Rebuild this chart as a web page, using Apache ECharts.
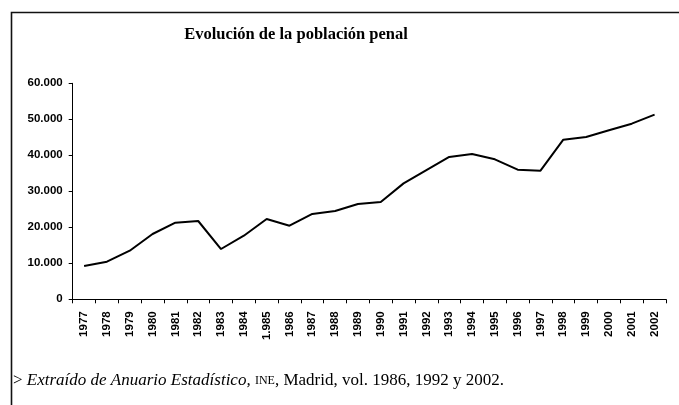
<!DOCTYPE html>
<html>
<head>
<meta charset="utf-8">
<script src="https://cdn.jsdelivr.net/npm/echarts@6/dist/echarts.min.js"></script>
<style>
html,body{margin:0;padding:0;background:#fff;}
#chart{width:679px;height:405px;}
</style>
</head>
<body>
<div id="chart"></div>
<script>
var years = ['1977','1978','1979','1980','1981','1982','1983','1984','1.985','1986','1987','1988','1989','1990','1991','1992','1993','1994','1995','1996','1997','1998','1999','2000','2001','2002'];
var poblacion = [9250,10450,13500,18140,21280,21750,13970,17670,22300,20450,23700,24530,26470,27030,32200,35900,39530,40360,38890,36000,35720,44330,45080,46940,48780,51280];
var titleText = 'Evolución de la población penal';
var yTicks = [0,10000,20000,30000,40000,50000,60000];

function fmt(v){
  return String(v).replace(/\B(?=(\d{3})+(?!\d))/g,'.');
}

var chart = echarts.init(document.getElementById('chart'), null, {renderer:'canvas'});
chart.setOption({
  animation:false,
  backgroundColor:'#fff',
  title:{
    text:titleText,
    left:291, top:21, textAlign:'center',
    textStyle:{fontFamily:'Liberation Serif', fontWeight:'bold', fontSize:16.5, color:'#000'}
  },
  grid:{left:72.7, right:13, top:83.3, bottom:105.7, containLabel:false},
  xAxis:{
    type:'category',
    data:years,
    boundaryGap:true,
    axisLine:{lineStyle:{color:'#000', width:1}},
    axisTick:{show:true, length:4, alignWithLabel:false, lineStyle:{color:'#000'}},
    axisLabel:{rotate:90, interval:0, margin:12, fontFamily:'Liberation Sans', fontWeight:'bold', fontSize:11.5, color:'#000'}
  },
  yAxis:{
    type:'value',
    min:yTicks[0], max:yTicks[yTicks.length-1], interval:10000,
    splitLine:{show:false},
    axisLine:{show:true, lineStyle:{color:'#000', width:1}},
    axisTick:{show:true, length:4, lineStyle:{color:'#000'}},
    axisLabel:{margin:10, fontFamily:'Liberation Sans', fontWeight:'bold', fontSize:11.5, color:'#000', formatter:fmt}
  },
  series:[{
    type:'line',
    data:poblacion,
    symbol:'none',
    lineStyle:{color:'#000', width:2},
    z:3
  }],
  graphic:[
    {type:'rect', shape:{x:11.5, y:12.5, width:700, height:420}, style:{fill:null, stroke:'#111', lineWidth:1.6}, silent:true},
    {type:'text', left:13, top:372,
     style:{
       rich:{
         n:{fontFamily:'Liberation Serif', fontSize:17, fill:'#000'},
         i:{fontFamily:'Liberation Serif', fontSize:17, fontStyle:'italic', fill:'#000'},
         s:{fontFamily:'Liberation Serif', fontSize:12, fill:'#000'}
       },
       text:'{n|> }{i|Extraído de Anuario Estadístico,}{n| }{s|INE}{n|, Madrid, vol. 1986, 1992 y 2002.}'
     }
    }
  ]
});
</script>
</body>
</html>
